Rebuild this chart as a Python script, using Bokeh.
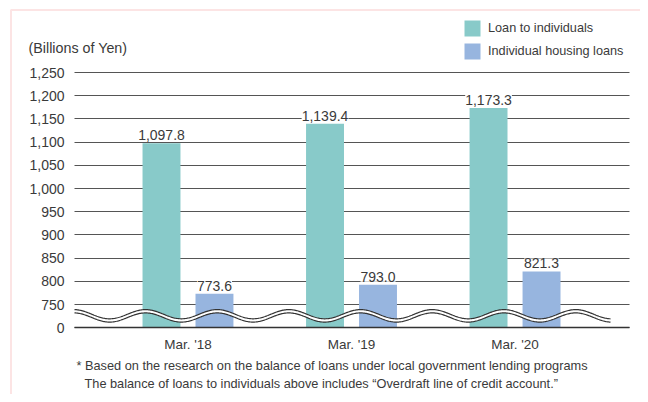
import numpy as np
from bokeh.plotting import figure
from bokeh.models import (Range1d, FixedTicker, ColumnDataSource, LabelSet, Label,
                          Legend, LegendItem, BoxAnnotation)
from bokeh.core.properties import value
from bokeh.embed import file_html
from bokeh.resources import INLINE

# ---- data ----
categories = ["Mar. '18", "Mar. '19", "Mar. '20"]
loans_to_individuals = [1097.8, 1139.4, 1173.3]
housing_loans = [773.6, 793.0, 821.3]
series_names = ["Loan to individuals", "Individual housing loans"]
tick_values = [0, 750, 800, 850, 900, 950, 1000, 1050, 1100, 1150, 1200, 1250]
tick_labels = ["0", "750", "800", "850", "900", "950", "1,000", "1,050",
               "1,100", "1,150", "1,200", "1,250"]
unit_label = "(Billions of Yen)"
footnotes = [
    "* Based on the research on the balance of loans under local government lending programs",
    "The balance of loans to individuals above includes \u201cOverdraft line of credit account.\u201d",
]

# broken axis: values >= 750 are drawn shifted down by BREAK_BASE
BREAK_BASE = 700
Y_TOP = 1250


def disp(v):
    return 0 if v == 0 else v - BREAK_BASE


TEAL = "#88cac9"
BLUE = "#97b5df"
TEXT = "#3a3a3a"
GRID = "#555555"
PINK = "#f4a6a6"
SANS = "Liberation Sans"

# ---- layout (pixels) ----
W, H = 640, 394
PLOT_L, PLOT_R = 74.0, 629.0      # extent of the bar area
BASE_PY, TOP_PY = 327.3, 72.0     # baseline and top grid line
X0, X1 = -0.694, 2.700            # data extent of the bar area
px_per_x = (PLOT_R - PLOT_L) / (X1 - X0)
px_per_y = (BASE_PY - TOP_PY) / disp(Y_TOP)

x_start = X0 - PLOT_L / px_per_x
x_end = X0 + (W - PLOT_L) / px_per_x
y_end = BASE_PY / px_per_y
y_start = -(H - BASE_PY) / px_per_y

p = figure(width=W, height=H, x_range=Range1d(x_start, x_end), y_range=Range1d(y_start, y_end),
           output_backend="svg", toolbar_location=None, min_border=0)
p.outline_line_color = None
p.background_fill_color = "white"
p.border_fill_color = "white"

xpos = np.arange(len(categories))
off, bw = 0.162, 0.232

src = ColumnDataSource(dict(
    x1=xpos - off, x2=xpos + off,
    t1=[disp(v) for v in loans_to_individuals],
    t2=[disp(v) for v in housing_loans],
))
r1 = p.vbar(x="x1", top="t1", bottom=0, width=bw, source=src, fill_color=TEAL, line_color=None)
r2 = p.vbar(x="x2", top="t2", bottom=0, width=bw, source=src, fill_color=BLUE, line_color=None)

# ---- axis break wave ----
wx = np.linspace(0, 536, 600)
period, phase, amp = 71.7, 71.0, 4.6
top_c, bot_c = 13.6, 10.3
wave = amp * np.cos(2 * np.pi * (wx - phase) / period)
wave_x = X0 + wx / px_per_x
p.varea(x=wave_x, y1=(bot_c + wave) / px_per_y, y2=(top_c + wave) / px_per_y, fill_color="white")
p.line(wave_x, (top_c + wave) / px_per_y, line_color="#333333", line_width=1.2)
p.line(wave_x, (bot_c + wave) / px_per_y, line_color="#333333", line_width=1.2)

# ---- value labels ----
lab_src = ColumnDataSource(dict(
    x=list(xpos - off) + list(xpos + off),
    y=[disp(v) for v in loans_to_individuals] + [disp(v) for v in housing_loans],
    text=[f"{v:,.1f}" for v in loans_to_individuals + housing_loans],
))
p.add_layout(LabelSet(x="x", y="y", text="text", source=lab_src, text_align="center",
                      text_baseline="alphabetic", y_offset=3, text_font=value(SANS),
                      text_font_size="14px", text_color=TEXT,
                      background_fill_color="white"))

# ---- axes (drawn at fixed locations inside the canvas) ----
p.xaxis.fixed_location = 0
p.xaxis.bounds = (X0, X1)
p.xaxis.ticker = FixedTicker(ticks=list(xpos))
p.xaxis.major_label_overrides = {int(i): c for i, c in zip(xpos, categories)}
p.xaxis.major_tick_line_color = None
p.xaxis.minor_tick_line_color = None
p.xaxis.axis_line_color = "#333333"
p.xaxis.axis_line_width = 1.5
p.xaxis.major_label_standoff = 3
p.xaxis.major_label_text_font = SANS
p.xaxis.major_label_text_font_size = "13.5px"
p.xaxis.major_label_text_color = TEXT

yt = [disp(v) for v in tick_values]
p.yaxis.fixed_location = X0
p.yaxis.ticker = FixedTicker(ticks=yt)
p.yaxis.major_label_overrides = {int(t): l for t, l in zip(yt, tick_labels)}
p.yaxis.major_tick_line_color = None
p.yaxis.minor_tick_line_color = None
p.yaxis.axis_line_color = None
p.yaxis.major_label_standoff = 4
p.yaxis.major_label_text_font = SANS
p.yaxis.major_label_text_font_size = "14px"
p.yaxis.major_label_text_color = TEXT

p.xgrid.grid_line_color = None
p.ygrid.grid_line_color = GRID
p.ygrid.grid_line_width = 1.2
p.ygrid.cross_bounds = (X0, X1)

# ---- legend ----
legend = Legend(items=[LegendItem(label=series_names[0], renderers=[r1]),
                       LegendItem(label=series_names[1], renderers=[r2])],
                location=(462, H - 61), orientation="vertical",
                glyph_width=20, glyph_height=20, label_height=20, spacing=3,
                padding=0, margin=0, label_standoff=6,
                border_line_color=None, background_fill_alpha=0,
                label_text_font=SANS, label_text_font_size="12.7px",
                label_text_color=TEXT)
p.add_layout(legend, "center")

# ---- texts ----
p.add_layout(Label(x=28, y=H - 47, x_units="screen", y_units="screen", text=unit_label,
                   text_font=SANS, text_font_size="14.3px", text_color=TEXT,
                   text_baseline="middle"))
p.add_layout(Label(x=76, y=H - 365, x_units="screen", y_units="screen", text=footnotes[0],
                   text_font=SANS, text_font_size="12.75px", text_color=TEXT,
                   text_baseline="middle"))
p.add_layout(Label(x=84, y=H - 382.5, x_units="screen", y_units="screen", text=footnotes[1],
                   text_font=SANS, text_font_size="12.75px", text_color=TEXT,
                   text_baseline="middle"))

# ---- pink frame (top and left edges) ----
p.add_layout(BoxAnnotation(left=10.5, right=W + 50, top=H - 9.5, bottom=-50,
                           left_units="screen", right_units="screen",
                           top_units="screen", bottom_units="screen",
                           fill_alpha=0, line_color=PINK, line_width=2))

open("out.html", "w").write(file_html(p, INLINE))
